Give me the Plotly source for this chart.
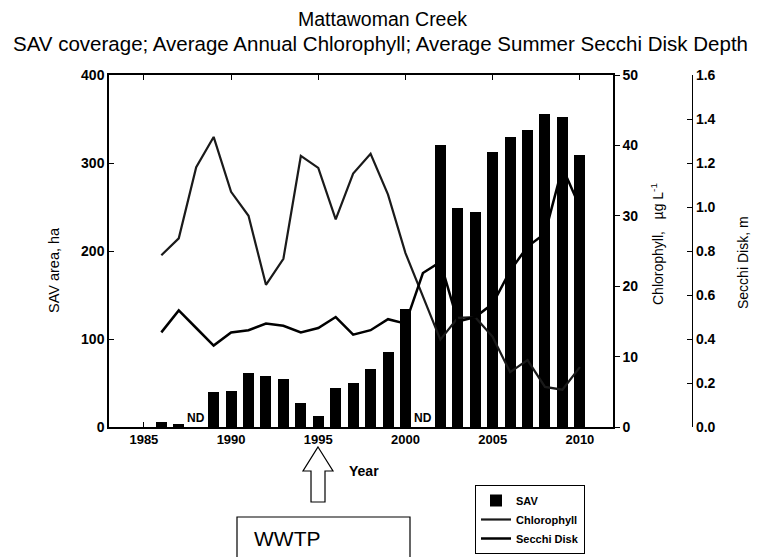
import plotly.graph_objects as go

# ---------------- data ----------------
years = list(range(1986, 2011))
sav_ha = [6, 3, None, 40, 41, 61, 58, 55, 27, 12, 44, 50, 66, 85, 134,
          None, 321, 249, 244, 312, 330, 338, 356, 352, 309]
chlorophyll = [24.4, 26.8, 36.9, 41.2, 33.4, 30.0, 20.2, 23.9, 38.5, 36.8,
               29.5, 36.0, 38.8, 33.0, 24.7, 18.5, 12.4, 15.5, 15.6, 12.8,
               7.8, 9.5, 5.7, 5.3, 8.5]
secchi = [0.43, 0.53, 0.45, 0.37, 0.43, 0.44, 0.47, 0.46, 0.43, 0.45,
          0.50, 0.42, 0.44, 0.49, 0.47, 0.70, 0.75, 0.48, 0.50, 0.56,
          0.71, 0.82, 0.88, 1.18, 1.00]
nd_years = [1988, 2001]
x_ticks = [1985, 1990, 1995, 2000, 2005, 2010]

FONT = "Liberation Sans, Arial, sans-serif"

# page body has an 8px margin -> figure is 752x549 and offset by 8px
# pixel (screen) -> paper helpers (plot area: x 109..613, secchi axis at 692; y 75..427)
PX0, PW = 109, 583
PY0, PH = 427, 352
def px(x):
    return (x - PX0) / PW
def py(y):
    return (PY0 - y) / PH

fig = go.Figure()

fig.add_trace(go.Bar(
    x=years, y=sav_ha, name="SAV", width=0.63,
    marker=dict(color="black", line=dict(width=0)),
    yaxis="y", xaxis="x",
))
fig.add_trace(go.Scatter(
    x=years, y=chlorophyll, name="Chlorophyll", mode="lines",
    line=dict(color="#1a1a1a", width=2.2), yaxis="y2",
))
fig.add_trace(go.Scatter(
    x=years, y=secchi, name="Secchi Disk", mode="lines",
    line=dict(color="black", width=2.5), yaxis="y3",
))

xtickfont = dict(family=FONT, size=13, color="black", weight="bold")
ytickfont = dict(family=FONT, size=14, color="black", weight="bold")

fig.update_layout(
    width=752, height=549,
    margin=dict(l=101, r=68, t=67, b=130, autoexpand=False),
    paper_bgcolor="white", plot_bgcolor="white",
    showlegend=True,
    bargap=0,
    xaxis=dict(
        domain=[0, 504 / 583], range=[1983, 2011.9],
        tickvals=x_ticks, ticks="inside", ticklen=5, tickcolor="black",
        showline=True, linecolor="black", linewidth=1.5, mirror="ticks",
        showgrid=False, zeroline=False, tickfont=xtickfont,
    ),
    yaxis=dict(
        range=[0, 400], dtick=100, ticks="inside", ticklen=5, tickcolor="black",
        showline=True, linecolor="black", linewidth=1.5,
        showgrid=False, zeroline=False, tickfont=ytickfont,
    ),
    yaxis2=dict(
        overlaying="y", side="right", anchor="x",
        range=[0, 50], dtick=10, ticks="outside", ticklen=5, tickcolor="black",
        showline=True, linecolor="black", linewidth=1.5,
        showgrid=False, zeroline=False, tickfont=ytickfont,
    ),
    yaxis3=dict(
        overlaying="y", side="right", anchor="free", position=1.0,
        range=[0, 1.6], dtick=0.2, tickformat=".1f",
        ticks="inside", ticklen=5, tickcolor="black",
        showline=True, linecolor="black", linewidth=1.2,
        showgrid=False, zeroline=False, tickfont=ytickfont,
    ),
    legend=dict(
        x=px(475), y=py(485), xanchor="left", yanchor="top",
        bordercolor="black", borderwidth=1, bgcolor="white",
        font=dict(family=FONT, size=11, color="black", weight="bold"),
        itemwidth=30, tracegroupgap=0,
    ),
)

annotations = [
    dict(text="Mattawoman Creek", x=px(382), y=py(19), xref="paper", yref="paper",
         showarrow=False, xanchor="center", yanchor="middle",
         font=dict(family=FONT, size=19.5, color="black")),
    dict(text="SAV coverage; Average Annual Chlorophyll; Average Summer Secchi Disk Depth",
         x=px(380), y=py(43), xref="paper", yref="paper",
         showarrow=False, xanchor="center", yanchor="middle",
         font=dict(family=FONT, size=20.5, color="black")),
    dict(text="SAV area, ha", x=px(54), y=py(270), xref="paper", yref="paper",
         showarrow=False, textangle=-90, xanchor="center", yanchor="middle",
         font=dict(family=FONT, size=14.5, color="black")),
    dict(text="Chlorophyll,   µg L<sup>-1</sup>", x=px(657), y=py(244),
         xref="paper", yref="paper", showarrow=False, textangle=-90,
         xanchor="center", yanchor="middle",
         font=dict(family=FONT, size=14, color="black")),
    dict(text="Secchi Disk, m", x=px(743), y=py(263), xref="paper", yref="paper",
         showarrow=False, textangle=-90, xanchor="center", yanchor="middle",
         font=dict(family=FONT, size=14, color="black")),
    dict(text="Year", x=px(364), y=py(471), xref="paper", yref="paper",
         showarrow=False, xanchor="center", yanchor="middle",
         font=dict(family=FONT, size=14, color="black", weight="bold")),
    dict(text="WWTP", x=px(252), y=py(538), xref="paper", yref="paper",
         showarrow=False, xanchor="left", yanchor="middle",
         font=dict(family=FONT, size=21, color="black")),
]
for yr in nd_years:
    annotations.append(dict(
        text="ND", x=yr, y=0, xref="x", yref="y", showarrow=False,
        xanchor="center", yanchor="bottom", yshift=0,
        font=dict(family=FONT, size=12, color="black", weight="bold")))
fig.update_layout(annotations=annotations)

# hollow arrow pointing at 1995 and WWTP box
arrow_pts = [(318, 447), (333, 471), (325, 471), (325, 502),
             (311, 502), (311, 471), (303, 471)]
path = "M " + " L ".join(f"{px(x):.4f},{py(y):.4f}" for x, y in arrow_pts) + " Z"
fig.add_shape(type="path", path=path, xref="paper", yref="paper",
              line=dict(color="black", width=1.2), fillcolor="white")
fig.add_shape(type="rect", xref="paper", yref="paper",
              x0=px(237), x1=px(410), y0=py(517), y1=py(570),
              line=dict(color="black", width=1.2), fillcolor="rgba(0,0,0,0)")

fig.write_html("out.html")
